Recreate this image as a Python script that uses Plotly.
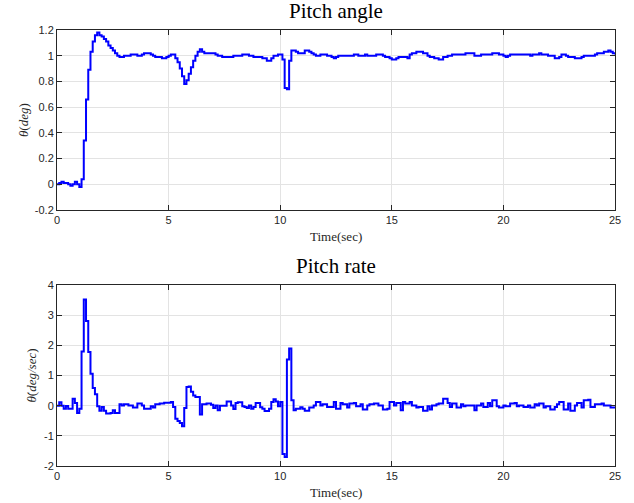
import numpy as np
import plotly.graph_objects as go

# time axis: samples every 0.1 s from 0 to 25 s
dt = 0.1
n_samples = 251

pitch_angle = [
    0.00, 0.01, 0.02, 0.01, 0.01, 0.00, -0.01, 0.00, 0.02, 0.00,
    -0.02, 0.04, 0.34, 0.66, 0.89, 1.03, 1.11, 1.16, 1.18, 1.16,
    1.15, 1.13, 1.11, 1.08, 1.06, 1.04, 1.02, 1.00, 0.99, 0.99,
    1.00, 1.00, 1.00, 1.01, 1.01, 1.01, 1.00, 1.00, 1.01, 1.02,
    1.02, 1.02, 1.01, 1.00, 0.99, 0.99, 0.99, 0.98, 0.98, 0.99,
    1.00, 1.01, 1.01, 0.98, 0.95, 0.90, 0.84, 0.78, 0.81, 0.86,
    0.91, 0.96, 1.00, 1.03, 1.05, 1.03, 1.02, 1.02, 1.02, 1.02,
    1.02, 1.01, 1.00, 1.00, 0.99, 0.99, 0.99, 0.99, 0.99, 1.00,
    1.00, 1.00, 1.00, 1.01, 1.01, 1.01, 1.00, 1.00, 0.99, 0.99,
    0.99, 0.99, 0.98, 0.98, 0.96, 0.96, 0.98, 1.00, 1.00, 1.01,
    1.01, 0.97, 0.75, 0.74, 0.96, 1.04, 1.04, 1.03, 1.02, 1.02,
    1.02, 1.04, 1.04, 1.03, 1.02, 1.01, 1.00, 1.00, 1.01, 1.01,
    1.01, 1.00, 1.00, 0.99, 0.98, 0.99, 1.00, 1.00, 1.00, 1.00,
    1.00, 1.00, 1.00, 1.01, 1.01, 1.00, 1.00, 1.00, 1.01, 1.00,
    1.00, 1.00, 1.00, 1.01, 1.01, 1.01, 1.00, 0.99, 0.99, 0.98,
    0.97, 0.97, 0.98, 0.99, 0.99, 0.99, 0.99, 0.98, 1.01, 1.02,
    1.02, 1.03, 1.03, 1.03, 1.02, 1.02, 1.00, 0.99, 0.99, 0.98,
    0.98, 0.97, 0.97, 0.99, 0.99, 1.00, 1.00, 1.01, 1.01, 1.01,
    1.01, 1.01, 1.01, 1.02, 1.02, 1.02, 1.02, 1.00, 1.00, 1.00,
    1.01, 1.01, 1.01, 1.01, 1.01, 1.02, 1.02, 1.02, 1.01, 1.01,
    1.00, 0.99, 1.00, 1.01, 1.01, 1.01, 1.01, 1.01, 1.01, 1.01,
    1.01, 1.01, 1.00, 1.01, 1.01, 1.01, 1.02, 1.01, 1.01, 1.01,
    1.00, 1.00, 1.00, 0.98, 0.98, 0.99, 1.01, 1.01, 1.00, 0.99,
    0.99, 0.99, 0.98, 0.98, 0.98, 0.99, 1.00, 1.00, 1.00, 1.00,
    1.00, 1.01, 1.02, 1.02, 1.02, 1.03, 1.03, 1.04, 1.03, 1.02,
    1.01,
]

pitch_rate = [
    0.00, 0.11, 0.00, -0.10, -0.01, -0.10, -0.10, 0.23, 0.09, -0.24,
    -0.10, 1.80, 3.52, 2.81, 1.78, 1.06, 0.59, 0.38, -0.02, -0.17,
    -0.04, -0.17, -0.26, -0.26, -0.24, -0.15, -0.24, -0.24, 0.05, 0.01,
    0.05, 0.05, 0.01, 0.01, -0.06, -0.06, 0.07, 0.07, 0.01, -0.10,
    -0.10, -0.10, -0.02, -0.06, 0.05, 0.05, 0.07, 0.07, 0.10, 0.10,
    0.10, 0.12, -0.04, -0.43, -0.51, -0.57, -0.68, -0.08, 0.62, 0.64,
    0.46, 0.34, 0.29, 0.29, -0.29, 0.05, 0.05, 0.07, 0.07, 0.03,
    -0.08, 0.01, -0.15, 0.00, 0.00, 0.00, 0.14, 0.14, 0.01, -0.11,
    0.09, 0.11, 0.11, -0.02, -0.04, -0.08, 0.01, -0.10, -0.04, 0.09,
    0.09, -0.05, -0.10, -0.18, -0.18, -0.10, 0.12, 0.21, 0.14, -0.02,
    0.12, -1.60, -1.70, 1.53, 1.90, 0.18, -0.15, -0.10, -0.10, -0.05,
    -0.10, -0.17, -0.17, -0.06, -0.06, 0.01, 0.12, 0.12, 0.01, 0.05,
    0.05, -0.04, -0.04, -0.04, 0.12, -0.10, -0.10, 0.09, 0.05, 0.05,
    -0.06, 0.07, 0.07, 0.09, -0.02, -0.02, 0.05, -0.13, -0.13, 0.01,
    0.05, 0.05, 0.07, 0.07, 0.01, 0.01, -0.13, -0.13, -0.10, 0.12,
    0.12, 0.01, 0.09, 0.09, -0.15, 0.12, 0.07, 0.07, 0.12, 0.01,
    0.01, -0.06, -0.04, -0.04, -0.17, -0.17, -0.02, -0.13, 0.01, 0.01,
    0.05, 0.07, 0.07, 0.23, 0.23, 0.09, -0.04, 0.07, 0.07, -0.06,
    -0.06, 0.05, -0.02, 0.01, 0.01, 0.01, 0.01, -0.15, 0.01, 0.01,
    0.07, -0.04, -0.04, 0.09, -0.02, 0.18, 0.18, -0.02, -0.06, -0.06,
    0.01, -0.02, -0.02, 0.07, 0.07, 0.09, -0.02, 0.01, 0.01, -0.04,
    -0.04, 0.01, -0.06, -0.06, 0.05, 0.01, 0.07, 0.07, -0.06, -0.02,
    -0.02, -0.13, -0.13, -0.04, 0.05, 0.12, 0.12, -0.13, -0.13, 0.07,
    -0.17, -0.17, 0.01, 0.09, 0.09, -0.06, 0.18, 0.18, 0.20, -0.04,
    -0.04, 0.05, 0.05, 0.05, 0.07, 0.01, 0.01, 0.01, -0.06, -0.06,
    -0.06,
]

time = [round(i * dt, 1) for i in range(n_samples)]

x_ticks = [0, 5, 10, 15, 20, 25]
angle_ticks = [-0.2, 0, 0.2, 0.4, 0.6, 0.8, 1, 1.2]
angle_ticktext = ["-0.2", "0", "0.2", "0.4", "0.6", "0.8", "1", "1.2"]
rate_ticks = [-2, -1, 0, 1, 2, 3, 4]
rate_ticktext = ["-2", "-1", "0", "1", "2", "3", "4"]

BLUE = "#0000ff"
AX = "#262626"
GRID = "#e3e3e3"
TICKFONT = dict(family="Liberation Sans, Arial, sans-serif", size=11, color=AX)
SERIF = "Liberation Serif, DejaVu Serif, serif"

fig = go.Figure()
fig.add_trace(go.Scatter(x=time, y=pitch_angle, mode="lines", line=dict(color=BLUE, width=2, shape="hv"),
                         xaxis="x", yaxis="y", showlegend=False))
fig.add_trace(go.Scatter(x=time, y=pitch_rate, mode="lines", line=dict(color=BLUE, width=2, shape="hv"),
                         xaxis="x2", yaxis="y2", showlegend=False))

common_axis = dict(showline=True, linecolor=AX, linewidth=1, mirror="ticks", ticks="inside", ticklen=5,
                   tickcolor=AX, tickwidth=1, showgrid=True, gridcolor=GRID, gridwidth=1, zeroline=False,
                   tickfont=TICKFONT, automargin=False)

TOP_DOM = [0.587, 1]
BOT_DOM = [0, 0.415]

label_font = dict(family=SERIF, size=13, color=AX)
title_font = dict(family=SERIF, size=21, color="black")

fig.update_layout(
    width=634, height=503,
    margin=dict(l=57, r=19, t=30, b=37, autoexpand=False),
    plot_bgcolor="white", paper_bgcolor="white",
    xaxis=dict(common_axis, domain=[0, 1], anchor="y", range=[0, 25], tickvals=x_ticks),
    yaxis=dict(common_axis, domain=TOP_DOM, anchor="x", range=[-0.2, 1.2], tickvals=angle_ticks,
               ticktext=angle_ticktext),
    xaxis2=dict(common_axis, domain=[0, 1], anchor="y2", range=[0, 25], tickvals=x_ticks),
    yaxis2=dict(common_axis, domain=BOT_DOM, anchor="x2", range=[-2, 4], tickvals=rate_ticks,
                ticktext=rate_ticktext),
    annotations=[
        dict(text="Pitch angle", x=0.5, y=TOP_DOM[1], xref="paper", yref="paper", yshift=5, showarrow=False,
             xanchor="center", yanchor="bottom", font=title_font),
        dict(text="Pitch rate", x=0.5, y=BOT_DOM[1], xref="paper", yref="paper", yshift=5, showarrow=False,
             xanchor="center", yanchor="bottom", font=title_font),
        dict(text="Time(sec)", x=0.5, y=TOP_DOM[0], xref="paper", yref="paper", yshift=-26, showarrow=False,
             xanchor="center", yanchor="middle", font=label_font),
        dict(text="Time(sec)", x=0.5, y=BOT_DOM[0], xref="paper", yref="paper", yshift=-26, showarrow=False,
             xanchor="center", yanchor="middle", font=label_font),
        dict(text="<i>θ</i>(<i>deg</i>)", x=0, y=(TOP_DOM[0] + TOP_DOM[1]) / 2, xref="paper", yref="paper",
             xshift=-34, showarrow=False, textangle=-90, xanchor="center", yanchor="middle", font=label_font),
        dict(text="<i>θ\u0307</i>(<i>deg/sec</i>)", x=0, y=(BOT_DOM[0] + BOT_DOM[1]) / 2, xref="paper",
             yref="paper", xshift=-25, showarrow=False, textangle=-90, xanchor="center", yanchor="middle",
             font=label_font),
    ],
)

fig.write_html(
    "out.html",
    config={"displayModeBar": False},
    post_script="document.body.style.margin='0px';document.body.style.overflow='hidden';",
)
